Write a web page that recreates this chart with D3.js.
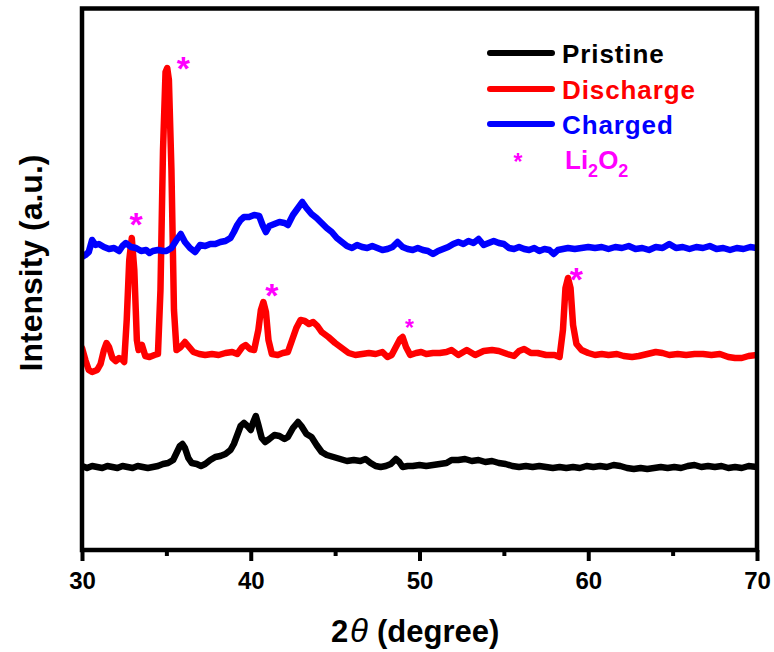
<!DOCTYPE html>
<html>
<head>
<meta charset="utf-8">
<script src="https://cdn.jsdelivr.net/npm/d3@7/dist/d3.min.js"></script>
<style>
  html, body { margin: 0; padding: 0; background: #fff; }
  svg { display: block; }
  text { font-family: Arial, "Liberation Sans", sans-serif; }
</style>
</head>
<body>
<svg id="chart" width="774" height="652"></svg>
<script>
// ---------------- DATA ----------------
const seriesNames = ["Pristine", "Discharge", "Charged"];
const seriesColors = ["#000000", "#ff0000", "#0000ff"];

const pristineTheta = [30.0,30.3,30.6,30.9,31.2,31.5,31.8,32.1,32.4,32.7,33.0,33.3,33.6,33.9,34.2,34.5,34.8,35.1,35.4,35.6,35.8,35.95,36.1,36.3,36.5,36.8,37.05,37.3,37.6,37.9,38.2,38.5,38.8,39.0,39.2,39.4,39.6,39.8,40.0,40.15,40.3,40.45,40.65,40.85,41.1,41.4,41.7,42.0,42.2,42.5,42.8,43.0,43.3,43.6,43.9,44.2,44.5,44.9,45.3,45.7,46.1,46.5,46.8,47.1,47.4,47.7,48.0,48.3,48.6,48.8,49.0,49.3,49.6,50.0,50.4,50.8,51.2,51.6,51.9,52.3,52.7,53.1,53.5,53.9,54.3,54.7,55.1,55.5,55.9,56.3,56.7,57.1,57.5,57.9,58.3,58.7,59.1,59.5,59.9,60.3,60.7,61.1,61.5,61.9,62.3,62.7,63.1,63.5,63.9,64.3,64.7,65.1,65.5,65.9,66.3,66.7,67.1,67.5,67.9,68.3,68.7,69.1,69.5,70.0];
const pristineI = [84,82,84,83,82,84,83,82,84,83,82,84,83,82,83,84,86,87,90,97,104,106,102,92,87,86,84,86,90,93,94,96,100,106,115,124,127,124,120,128,134,125,112,108,111,115,114,111,113,122,128,124,116,113,105,98,95,93,91,89,90,89,91,87,84,83,84,86,91,88,83,84,84,85,84,85,86,87,90,90,91,89,90,88,89,87,86,84,83,84,83,84,83,82,83,82,83,82,84,83,84,83,85,84,82,81,82,81,82,83,82,83,82,84,85,83,84,83,84,82,83,82,84,83];

const dischargeTheta = [30.0,30.2,30.4,30.6,30.9,31.1,31.3,31.45,31.6,31.8,32.0,32.2,32.4,32.5,32.65,32.8,32.95,33.1,33.25,33.35,33.55,33.75,34.0,34.3,34.5,34.65,34.8,34.95,35.05,35.15,35.3,35.45,35.6,35.85,36.1,36.35,36.6,36.95,37.3,37.7,38.1,38.5,38.9,39.2,39.5,39.7,39.95,40.2,40.45,40.6,40.75,40.9,41.05,41.25,41.6,41.9,42.2,42.45,42.7,42.95,43.2,43.45,43.7,43.95,44.2,44.6,45.0,45.4,45.8,46.2,46.6,47.0,47.4,47.8,48.1,48.35,48.6,48.85,49.0,49.2,49.45,49.8,50.1,50.4,50.8,51.2,51.6,51.9,52.3,52.8,53.3,53.8,54.3,54.7,55.2,55.6,55.9,56.2,56.6,57.0,57.5,58.0,58.3,58.5,58.65,58.8,58.95,59.1,59.3,59.6,60.0,60.4,60.8,61.2,61.7,62.1,62.6,63.0,63.5,64.0,64.4,64.8,65.3,65.8,66.3,66.8,67.3,67.8,68.3,68.7,69.1,69.5,70.0];
const dischargeI = [202,190,180,178,180,186,200,207,203,192,189,192,190,188,230,290,312,280,210,200,205,194,193,195,196,260,400,478,482,470,380,240,200,203,208,203,198,196,195,196,195,197,198,196,203,205,201,200,220,240,248,238,210,196,195,197,198,210,222,230,229,226,228,224,218,213,207,202,197,195,196,197,196,198,193,195,203,211,213,203,195,197,198,196,197,197,198,200,195,200,195,199,200,199,196,194,199,201,197,197,195,195,193,220,262,272,262,225,206,200,197,195,196,195,196,194,193,194,196,198,197,195,196,195,196,196,195,196,193,192,192,194,195];

const chargedTheta = [30.0,30.2,30.4,30.6,30.8,31.0,31.3,31.6,31.9,32.2,32.4,32.6,32.9,33.2,33.5,33.8,34.0,34.2,34.5,34.8,35.0,35.3,35.6,35.85,36.1,36.4,36.7,37.0,37.3,37.6,37.9,38.2,38.5,38.8,39.0,39.2,39.4,39.6,39.9,40.2,40.5,40.7,40.9,41.1,41.4,41.7,42.0,42.2,42.5,42.8,43.05,43.3,43.6,43.9,44.2,44.5,44.8,45.1,45.4,45.7,46.0,46.3,46.6,46.9,47.2,47.5,47.8,48.1,48.4,48.7,49.0,49.3,49.6,49.9,50.2,50.5,50.8,51.1,51.4,51.7,52.0,52.3,52.6,52.9,53.2,53.5,53.8,54.1,54.4,54.7,55.0,55.3,55.6,55.9,56.2,56.5,56.8,57.1,57.4,57.7,57.95,58.2,58.5,58.8,59.2,59.6,60.0,60.4,60.8,61.2,61.6,62.0,62.4,62.8,63.2,63.6,64.0,64.4,64.8,65.2,65.6,66.0,66.4,66.8,67.2,67.6,68.0,68.4,68.8,69.2,69.6,70.0];
const chargedI = [293,295,298,310,305,306,303,301,302,299,304,307,303,302,299,300,297,299,300,299,299,302,310,316,308,302,298,305,304,306,306,308,309,312,318,325,330,333,333,335,334,325,318,324,326,328,327,325,335,342,348,342,336,332,327,322,318,312,308,304,302,305,303,302,304,302,300,301,303,308,303,301,300,302,300,299,296,299,301,303,306,308,306,309,307,311,305,307,309,307,306,302,301,303,301,300,302,299,301,300,296,300,301,302,301,302,303,302,303,301,303,302,304,301,302,300,303,302,306,302,303,301,303,302,304,301,302,300,302,301,303,302];

// Li2O2 reflection markers
const starTheta = [33.2, 36.0, 41.25, 49.4, 59.3];
const starI = [333, 489, 262, 227, 278];

const xTicks = [30, 40, 50, 60, 70];
const xMinorTicks = [35, 45, 55, 65];

// ---------------- LAYOUT ----------------
const L = 82, R = 757, T = 8.5, B = 550;
const svg = d3.select("#chart");

const x = d3.scaleLinear().domain([30, 70]).range([L, R]);
const y = d3.scaleLinear().domain([0, 541.5]).range([B, T]);

const series = [
  {name: seriesNames[0], color: seriesColors[0], th: pristineTheta, v: pristineI},
  {name: seriesNames[1], color: seriesColors[1], th: dischargeTheta, v: dischargeI},
  {name: seriesNames[2], color: seriesColors[2], th: chargedTheta, v: chargedI}
];

const line = d3.line().x(d => x(d[0])).y(d => y(d[1]));

svg.append("defs").append("clipPath").attr("id", "clip")
  .append("rect").attr("x", L).attr("y", T).attr("width", R - L).attr("height", B - T);

const plot = svg.append("g").attr("clip-path", "url(#clip)");
series.forEach(s => {
  plot.append("path")
    .datum(s.th.map((t, i) => [t, s.v[i]]))
    .attr("d", line)
    .attr("fill", "none")
    .attr("stroke", s.color)
    .attr("stroke-width", 6.5)
    .attr("stroke-linejoin", "round")
    .attr("stroke-linecap", "round");
});

// stars
const starSize = [34, 34, 34, 23, 34];
svg.append("g").selectAll("text").data(starTheta).join("text")
  .attr("x", (d) => x(d))
  .attr("y", (d, i) => y(starI[i]) + 0.56 * starSize[i])
  .attr("text-anchor", "middle")
  .attr("font-size", (d, i) => starSize[i])
  .attr("font-weight", "bold")
  .attr("fill", "#ff00ff")
  .text("*");

// frame
svg.append("rect")
  .attr("x", L).attr("y", T).attr("width", R - L).attr("height", B - T)
  .attr("fill", "none").attr("stroke", "#000").attr("stroke-width", 4.5);

// x axis
const xAxis = svg.append("g").attr("transform", `translate(0,${B})`)
  .call(d3.axisBottom(x).tickValues(xTicks).tickSize(11).tickSizeOuter(0).tickFormat(d3.format("d")));
xAxis.select(".domain").remove();
xAxis.selectAll(".tick line").attr("stroke", "#000").attr("stroke-width", 4);
xAxis.selectAll(".tick text")
  .attr("y", 39).attr("dy", 0)
  .attr("font-size", 24).attr("font-weight", "bold")
  .attr("font-family", "Arial, 'Liberation Sans', sans-serif")
  .attr("fill", "#000");

const xMinor = svg.append("g").attr("transform", `translate(0,${B})`)
  .call(d3.axisBottom(x).tickValues(xMinorTicks).tickSize(6).tickSizeOuter(0).tickFormat(""));
xMinor.select(".domain").remove();
xMinor.selectAll(".tick line").attr("stroke", "#000").attr("stroke-width", 4);

// axis titles
const xt = svg.append("text")
  .attr("x", 331).attr("y", 642)
  .attr("font-size", 31).attr("font-weight", "bold").attr("fill", "#000");
xt.append("tspan").text("2");
xt.append("tspan").attr("x", 350).attr("font-style", "italic").attr("font-weight", "normal")
  .attr("font-size", 33).text("θ");
xt.append("tspan").attr("x", 377).text("(degree)");

svg.append("text")
  .attr("transform", "translate(42,263) rotate(-90)")
  .attr("text-anchor", "middle")
  .attr("font-size", 32).attr("font-weight", "bold").attr("fill", "#000")
  .text("Intensity (a.u.)");

// legend
const legY = [53, 89, 124];
const lg = svg.append("g");
series.forEach((s, i) => {
  lg.append("line")
    .attr("x1", 490).attr("x2", 552).attr("y1", legY[i]).attr("y2", legY[i])
    .attr("stroke", s.color).attr("stroke-width", 6).attr("stroke-linecap", "round");
  lg.append("text")
    .attr("x", 562).attr("y", legY[i] + 9.5)
    .attr("font-size", 26).attr("font-weight", "bold")
    .attr("letter-spacing", 0.9)
    .attr("fill", s.color).text(s.name);
});
lg.append("text").attr("x", 518).attr("y", 157 + 0.56 * 23)
  .attr("text-anchor", "middle").attr("font-size", 23).attr("font-weight", "bold")
  .attr("fill", "#ff00ff").text("*");
const li = lg.append("text").attr("x", 565).attr("y", 169)
  .attr("font-size", 26).attr("font-weight", "bold").attr("fill", "#ff00ff");
li.append("tspan").text("Li");
li.append("tspan").attr("font-size", 18).attr("dy", 8).text("2");
li.append("tspan").attr("dy", -8).text("O");
li.append("tspan").attr("font-size", 18).attr("dy", 8).text("2");
</script>
</body>
</html>
